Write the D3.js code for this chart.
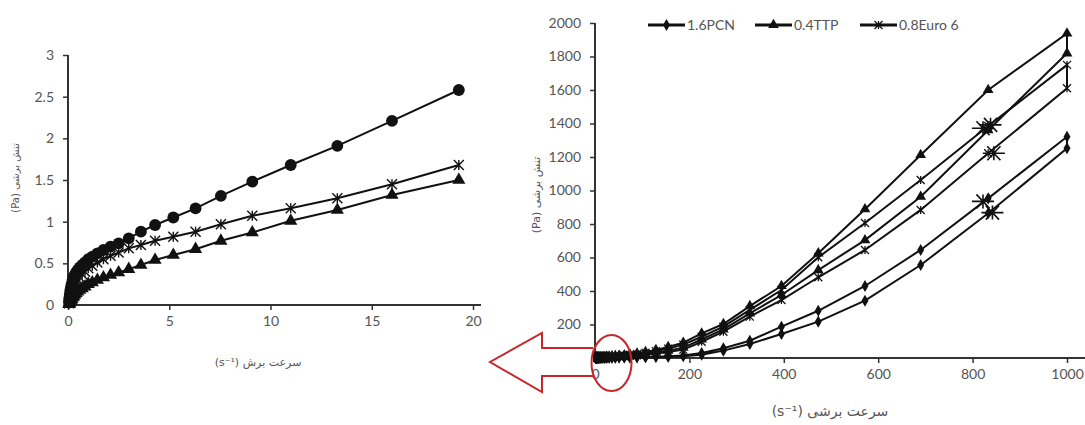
<!DOCTYPE html>
<html>
<head>
<meta charset="utf-8">
<script src="https://cdn.jsdelivr.net/npm/d3@7"></script>
<style>
  body { margin: 0; background: #fff; }
  text { font-family: Lato, "Open Sans", sans-serif; }
</style>
</head>
<body>
<svg width="1085" height="425"></svg>
<script>
// ---------- data ----------
// left panel (zoom on low shear rates)
const leftRates = [0.05, 0.06, 0.075, 0.09, 0.11, 0.13, 0.16, 0.19, 0.23, 0.28, 0.33, 0.4, 0.48, 0.58, 0.7, 0.84,
  1.0, 1.2, 1.45, 1.75, 2.1, 2.5, 3.0, 3.6, 4.3, 5.2, 6.3, 7.55, 9.1, 11.0, 13.3, 16.0, 19.3];
const leftCircle = [0.03, 0.06, 0.09, 0.12, 0.16, 0.19, 0.23, 0.26, 0.30, 0.33, 0.36, 0.39, 0.42, 0.45, 0.48, 0.51,
  0.55, 0.58, 0.62, 0.66, 0.70, 0.74, 0.80, 0.88, 0.96, 1.05, 1.16, 1.31, 1.48, 1.68, 1.91, 2.21, 2.58];
const leftCross = [0.02, 0.03, 0.05, 0.07, 0.09, 0.11, 0.13, 0.16, 0.19, 0.22, 0.25, 0.28, 0.30, 0.33, 0.37, 0.40,
  0.44, 0.47, 0.51, 0.55, 0.59, 0.63, 0.68, 0.72, 0.77, 0.82, 0.88, 0.97, 1.07, 1.16, 1.28, 1.45, 1.68];
const leftTriangle = [0.01, 0.015, 0.02, 0.03, 0.04, 0.05, 0.06, 0.07, 0.09, 0.10, 0.12, 0.14, 0.16, 0.18, 0.20, 0.22,
  0.25, 0.27, 0.30, 0.33, 0.36, 0.39, 0.43, 0.48, 0.54, 0.60, 0.67, 0.77, 0.87, 1.01, 1.14, 1.32, 1.50];
const leftXTicks = [0, 5, 10, 15, 20];
const leftYTicks = [0, 0.5, 1, 1.5, 2, 2.5, 3];

// right panel (full range, up and down curves)
const rightRates = [1.1, 1.3, 1.6, 1.9, 2.3, 2.8, 3.3, 4, 4.8, 5.8, 7, 8.3, 10, 12, 14.5, 17, 21, 25, 30, 36, 43, 51,
  62, 74, 89, 107, 129, 155, 187, 226, 272, 328, 395, 473, 572, 690, 833, 1000];
const pcnUp = [0.5, 0.55, 0.6, 0.65, 0.72, 0.8, 0.85, 0.95, 1.05, 1.15, 1.25, 1.35, 1.5, 1.6, 1.8, 2, 2.2, 2.4, 2.7, 3,
  3.3, 3.7, 4.2, 4.8, 5.5, 6.5, 8, 10, 15, 30, 58, 103, 187, 282, 430, 645, 953, 1321];
const pcnDown = [0.35, 0.4, 0.45, 0.5, 0.55, 0.6, 0.65, 0.7, 0.8, 0.85, 0.9, 1, 1.1, 1.2, 1.3, 1.4, 1.55, 1.7, 1.9, 2.1,
  2.3, 2.6, 2.9, 3.3, 3.8, 4.5, 5.5, 7, 10, 20, 44, 84, 143, 217, 342, 555, 864, 1252];
const ttpUp = [1.0, 1.2, 1.3, 1.5, 1.7, 1.9, 2.1, 2.3, 2.6, 2.9, 3.2, 3.6, 4, 4.5, 5, 5.5, 6.5, 7.5, 8.5, 10,
  12, 14, 17, 21, 27, 36, 48, 66, 92, 147, 203, 310, 430, 625, 888, 1212, 1600, 1938];
const ttpDown = [0.8, 0.9, 1.0, 1.2, 1.3, 1.5, 1.7, 1.9, 2.1, 2.3, 2.6, 2.9, 3.2, 3.6, 4, 4.4, 5, 5.7, 6.5, 7.5,
  8.5, 10, 12, 15, 19, 25, 33, 44, 62, 111, 171, 267, 376, 525, 704, 963, 1360, 1819];
const euroUp = [0.9, 1.1, 1.2, 1.4, 1.6, 1.8, 2, 2.2, 2.4, 2.7, 3, 3.3, 3.7, 4.1, 4.6, 5.2, 6, 6.8, 7.8, 9,
  10.5, 12.5, 15, 19, 24, 31, 41, 56, 80, 127, 187, 287, 406, 601, 806, 1063, 1385, 1750];
const euroDown = [0.8, 0.9, 1.0, 1.1, 1.2, 1.4, 1.5, 1.7, 1.9, 2.1, 2.3, 2.5, 2.8, 3.1, 3.5, 3.9, 4.4, 5, 5.7, 6.5,
  7.5, 8.8, 10.5, 13, 16, 21, 27, 36, 50, 97, 157, 247, 346, 482, 645, 884, 1222, 1610];
const bigStarRate = [822, 838, 845, 822, 842];
const bigStarStress = [1372, 1392, 1222, 935, 868];
const rightXTicks = [0, 200, 400, 600, 800, 1000];
const rightYTicks = [0, 200, 400, 600, 800, 1000, 1200, 1400, 1600, 1800, 2000];
const legendNames = ["1.6PCN", "0.4TTP", "0.8Euro 6"];

// ---------- drawing ----------
const svg = d3.select("svg");
const axisColor = "#333";
const labelColor = "#555";

const xL = d3.scaleLinear().domain([0, 20]).range([68, 473]);
const yL = d3.scaleLinear().domain([0, 3]).range([305, 55]);
const xR = d3.scaleLinear().domain([0, 1000]).range([595, 1067]);
const yR = d3.scaleLinear().domain([0, 2000]).range([358, 23]);

// marker shapes
function crossPath(s) { // X with a short vertical bar
  return `M${-s},${-s}L${s},${s}M${-s},${s}L${s},${-s}M0,${-s}L0,${s}`;
}
function bigStarPath(w, h) {
  return `M${-w},0L${w},0M${-w * 0.6},${-h}L${w * 0.6},${h}M${-w * 0.6},${h}L${w * 0.6},${-h}M0,${-h}L0,${h}`;
}
const sym = {
  circle: d3.symbol().type(d3.symbolCircle).size(110)(),
  triangleL: d3.symbol().type(d3.symbolTriangle).size(75)(),
  diamond: d3.symbol().type(d3.symbolDiamond).size(42)(),
  triangleR: d3.symbol().type(d3.symbolTriangle).size(50)()
};

function drawAxes(g, x, y, xTicks, yTicks, xEnd, fmtX, fmtY) {
  const ax = g.append("g")
    .attr("transform", `translate(0,${y.range()[0]})`)
    .call(d3.axisBottom(x).tickValues(xTicks).tickSize(5).tickSizeOuter(0).tickPadding(6).tickFormat(fmtX));
  const ay = g.append("g")
    .attr("transform", `translate(${x.range()[0]},0)`)
    .call(d3.axisLeft(y).tickValues(yTicks).tickSize(5).tickSizeOuter(0).tickPadding(9).tickFormat(fmtY));
  [ax, ay].forEach(a => {
    a.select(".domain").remove();
    a.selectAll("line").attr("stroke", axisColor).attr("stroke-width", 1.5);
    a.selectAll("text").attr("fill", labelColor).attr("font-size", 14)
      .style("font-family", "Lato, sans-serif");
  });
  // axis lines (x line runs a bit past the last tick, like the original)
  g.append("line").attr("x1", x.range()[0]).attr("x2", xEnd)
    .attr("y1", y.range()[0]).attr("y2", y.range()[0])
    .attr("stroke", axisColor).attr("stroke-width", 2);
  g.append("line").attr("x1", x.range()[0]).attr("x2", x.range()[0])
    .attr("y1", y.range()[0]).attr("y2", y.range()[1])
    .attr("stroke", axisColor).attr("stroke-width", 2);
}

// ----- left panel -----
const gl = svg.append("g");
drawAxes(gl, xL, yL, leftXTicks, leftYTicks, 481, d3.format("d"), d3.format("~g"));

const leftSeries = [
  {vals: leftTriangle, marker: "triangleL"},
  {vals: leftCross, marker: "cross"},
  {vals: leftCircle, marker: "circle"}
];
const lineL = d3.line().x(d => xL(d[0])).y(d => yL(d[1]));
leftSeries.forEach(s => {
  const pts = leftRates.map((r, i) => [r, s.vals[i]]);
  gl.append("path").attr("d", lineL(pts)).attr("fill", "none")
    .attr("stroke", "#111").attr("stroke-width", 2);
  const m = gl.selectAll(null).data(pts).enter().append("path")
    .attr("transform", d => `translate(${xL(d[0])},${yL(d[1])})`);
  if (s.marker === "cross") {
    m.attr("d", crossPath(5)).attr("fill", "none").attr("stroke", "#111").attr("stroke-width", 1.4);
  } else {
    m.attr("d", sym[s.marker]).attr("fill", "#111");
  }
});

gl.append("text").attr("x", 258).attr("y", 366).attr("text-anchor", "middle")
  .attr("font-size", 11).attr("fill", labelColor).style("font-family", "DejaVu Sans")
  .text("(s⁻¹) سرعت برش");
gl.append("text").attr("transform", "translate(19,178) rotate(-90)").attr("text-anchor", "middle")
  .attr("font-size", 10).attr("fill", labelColor).style("font-family", "DejaVu Sans")
  .text("(Pa) تنش برشی");

// ----- right panel -----
const gr = svg.append("g");
drawAxes(gr, xR, yR, rightXTicks, rightYTicks, 1085, d3.format("d"), d3.format("d"));

const rightSeries = [
  {up: pcnUp, down: pcnDown, marker: "diamond"},
  {up: euroUp, down: euroDown, marker: "star"},
  {up: ttpUp, down: ttpDown, marker: "triangleR"}
];
const lineR = d3.line().x(d => xR(d[0])).y(d => yR(d[1]));
function drawMarkers(g, pts, marker, x, y) {
  const m = g.selectAll(null).data(pts).enter().append("path")
    .attr("transform", d => `translate(${x(d[0])},${y(d[1])})`);
  if (marker === "star") {
    m.attr("d", crossPath(4)).attr("fill", "none").attr("stroke", "#111").attr("stroke-width", 1.3);
  } else {
    m.attr("d", sym[marker]).attr("fill", "#111");
  }
}
rightSeries.forEach(s => {
  const up = rightRates.map((r, i) => [r, s.up[i]]);
  const down = rightRates.map((r, i) => [r, s.down[i]]).reverse();
  gr.append("path").attr("d", lineR(up.concat(down))).attr("fill", "none")
    .attr("stroke", "#111").attr("stroke-width", 2);
  drawMarkers(gr, up.concat(down), s.marker, xR, yR);
});
gr.selectAll(null).data(bigStarRate.map((r, i) => [r, bigStarStress[i]])).enter().append("path")
  .attr("transform", d => `translate(${xR(d[0])},${yR(d[1])})`)
  .attr("d", bigStarPath(11, 7)).attr("fill", "none").attr("stroke", "#111").attr("stroke-width", 1.6);

gr.append("text").attr("x", 830).attr("y", 416).attr("text-anchor", "middle")
  .attr("font-size", 14).attr("fill", labelColor).style("font-family", "DejaVu Sans")
  .text("(s⁻¹) سرعت برشی");
gr.append("text").attr("transform", "translate(540,195) rotate(-90)").attr("text-anchor", "middle")
  .attr("font-size", 11).attr("fill", labelColor).style("font-family", "DejaVu Sans")
  .text("(Pa) تنش برشی");

// legend
const legendX = [648, 755, 860];
const legendMarkers = ["diamond", "triangleR", "star"];
const lg = svg.append("g");
legendNames.forEach((name, i) => {
  const x0 = legendX[i];
  lg.append("line").attr("x1", x0).attr("x2", x0 + 37).attr("y1", 25).attr("y2", 25)
    .attr("stroke", "#111").attr("stroke-width", 3);
  drawMarkers(lg, [[x0 + 18.5, 25]], legendMarkers[i], v => v, v => v);
  lg.append("text").attr("x", x0 + 39).attr("y", 30).attr("font-size", 14)
    .attr("fill", labelColor).text(name);
});

// red callout: ellipse round the origin of the right panel and arrow pointing to the left panel
const red = "#c8262c";
const arrow = d3.path();
arrow.moveTo(593, 348); arrow.lineTo(542, 348); arrow.lineTo(542, 333); arrow.lineTo(490, 362);
arrow.lineTo(542, 392); arrow.lineTo(542, 376); arrow.lineTo(593, 376);
svg.append("path").attr("d", arrow.toString()).attr("fill", "#fff")
  .attr("stroke", red).attr("stroke-width", 2);
svg.append("ellipse").attr("cx", xR(35)).attr("cy", 363).attr("rx", 20).attr("ry", 28)
  .attr("fill", "none").attr("stroke", red).attr("stroke-width", 2);
</script>
</body>
</html>
